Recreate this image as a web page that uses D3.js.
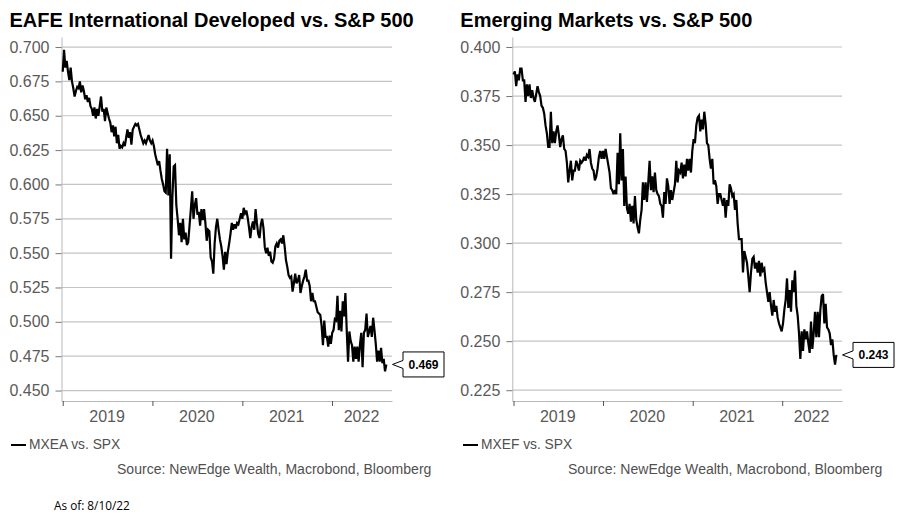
<!DOCTYPE html>
<html><head><meta charset="utf-8">
<script src="https://cdn.jsdelivr.net/npm/d3@7"></script>
<style>html,body{margin:0;padding:0;background:#fff}svg{display:block}text{font-family:"Liberation Sans",Arial,sans-serif}</style>
</head><body><svg id="c" width="899" height="522"></svg>
<script>
const years = ["2019","2020","2021","2022"];
const eafeTicks = [0.45,0.475,0.5,0.525,0.55,0.575,0.6,0.625,0.65,0.675,0.7];
const emTicks = [0.225,0.25,0.275,0.3,0.325,0.35,0.375,0.4];
const firstDate = "2019-01-01", lastDate = "2022-08-10";
const eafeValues = [
.682,.698,.685,.690,.682,.676,.685,.675,.670,.664,.668,.671,.670,.675,.667,.672,.668,.662,.665,.660,.663,.657,.655,.650,.656,.648,.655,.650,.657,.664,.653,.655,.646,.656,.652,.648,.645,.638,.643,.635,.642,.630,.636,.626,.628,.627,.630,.628,.634,.640,.634,.638,.629,.640,.642,.644,.643,.644,.640,.636,.633,.630,.632,.630,.633,.636,.632,.630,.632,.628,.622,.618,.614,.617,.610,.604,.600,.595,.594,.626,.592,.622,.546,.590,.613,.614,.585,.575,.563,.572,.558,.575,.560,.565,.556,.558,.570,.582,.595,.575,.585,.590,.578,.580,.570,.582,.574,.582,
.572,.559,.567,.566,.547,.544,.535,.557,.569,.575,.567,.560,.555,.548,.538,.551,.542,.551,.557,.564,.572,.567,.571,.568,.572,.571,.575,.579,.575,.583,.579,.581,.576,.569,.561,.569,.573,.567,.582,.572,.564,.561,
.571,.575,.568,.554,.550,.554,.548,.551,.544,.543,.546,.555,.557,.554,.559,.560,.557,.563,.555,.545,.540,.534,.532,.533,.522,.528,.535,.528,.530,.534,.521,.526,.530,.533,.538,.530,.530,.526,.515,.521,.515,.515,.511,.507,.506,.505,.497,.483,.501,.489,.489,.482,.490,.484,.492,.494,.502,.501,.519,.494,.508,.493,.515,.504,.521,.494,.471,.493,.486,.483,.471,.482,.473,.482,.471,.483,.492,.467,.492,.494,.506,.489,.493,.497,.489,.503,.494,.484,.471,.479,.471,.481,.470,.473,.464,.469];
const emValues = [
.386,.3876,.380,.386,.383,.389,.389,.383,.383,.372,.381,.375,.381,.374,.378,.374,.372,.376,.380,.377,.375,.370,.369,.366,.360,.356,.349,.349,.367,.351,.357,.351,.357,.360,.355,.349,.353,.355,.348,.347,.341,.331,.337,.342,.332,.337,.337,.342,.340,.337,.342,.341,.342,.344,.342,.345,.344,.348,.341,.338,.337,.332,.334,.338,.344,.347,.343,.347,.343,.348,.344,.340,.336,.328,.327,.325,.327,.325,.346,.330,.356,.332,.348,.319,.334,.318,.315,.320,.311,.319,.310,.324,.312,.308,.305,.312,.317,.331,.322,.331,.321,.331,.342,.327,.334,.326,.336,.327,.325,.324,.320,.319,.313,.326,.320,.333,.329,.320,.327,.322,.326,.330,.342,.331,.337,
.336,.341,.333,.340,.334,.343,.337,.343,.336,.347,.353,.351,.360,.364,.365,.357,.363,.358,.367,.361,.351,.350,.343,.338,.343,.330,.332,.329,.320,.325,.325,.322,.319,.323,.313,.322,.319,.330,.328,.324,.325,.317,.322,.310,.302,
.302,.302,.285,.296,.293,.290,.283,.275,.285,.292,.293,.287,.290,.285,.291,.283,.290,.286,.287,.280,.275,.270,.275,.268,.263,.271,.265,.268,.262,.259,.257,.255,.259,.266,.271,.282,.267,.276,.265,.281,.275,.286,.268,.263,.254,.241,.255,.245,.256,.251,.255,.249,.244,.260,.246,.254,.265,.252,.265,.252,.266,.273,.274,.259,.269,.257,.256,.254,.248,.251,.243,.238,.243];
const charts = [
 {title:"EAFE International Developed vs. S&P 500", values:eafeValues, ticks:eafeTicks, fmt:d3.format(".3f"), dom:[0.4424,0.7073], left:61.5, right:392, tx:9.5, legend:"MXEA vs. SPX", lx:11, sx:117, last:"0.469", lastV:0.469},
 {title:"Emerging Markets vs. S&P 500", values:emValues, ticks:emTicks, fmt:d3.format(".3f"), dom:[0.2195,0.4051], left:512.3, right:842, tx:460.3, legend:"MXEF vs. SPX", lx:463, sx:568, last:"0.243", lastV:0.243}
];
const svg = d3.select("#c");
const TOP=37, BOT=401;
const parse = d3.utcParse("%Y-%m-%d");
charts.forEach(c=>{
  const x = d3.scaleUtc().domain([parse("2018-12-27"),parse("2022-09-02")]).range([c.left,c.right]);
  const y = d3.scaleLinear().domain(c.dom).range([BOT,TOP]);
  const g = svg.append("g");
  g.append("text").attr("x",c.tx).attr("y",27).attr("font-size",20).attr("font-weight","bold").attr("fill","#000").text(c.title);
  g.append("g").selectAll("line").data(c.ticks).join("line")
    .attr("x1",c.left).attr("x2",c.right).attr("y1",d=>y(d)).attr("y2",d=>y(d)).attr("stroke","#c4c4c4").attr("stroke-width",1.2);
  const ya = g.append("g").attr("transform",`translate(${c.left},0)`)
    .call(d3.axisLeft(y).tickValues(c.ticks).tickFormat(c.fmt).tickSize(6).tickSizeOuter(0).tickPadding(6));
  ya.select(".domain").attr("stroke","#b8b8b8");
  ya.selectAll(".tick line").attr("stroke","#777");
  ya.selectAll("text").attr("font-size",16).attr("fill","#5a5a5a").style("font-family",'"Liberation Sans",Arial,sans-serif');
  const yearDates = years.map(v=>parse(v+"-01-01"));
  const xa = g.append("g").attr("transform",`translate(0,${BOT})`)
    .call(d3.axisBottom(x).tickValues(yearDates).tickFormat("").tickSize(5).tickSizeOuter(0));
  xa.select(".domain").attr("stroke","#b8b8b8");
  xa.selectAll(".tick line").attr("stroke","#555");
  const mids = yearDates.map((d,i)=>(x(d)+(i<3?x(yearDates[i+1]):c.right))/2);
  g.append("g").selectAll("text").data(years).join("text")
    .attr("x",(d,i)=>mids[i]-0.5).attr("y",422).attr("text-anchor","middle").attr("font-size",16).attr("fill","#5a5a5a").text(d=>d);
  const t0=+parse(firstDate), t1=+parse(lastDate), n=c.values.length;
  const pts = c.values.map((v,i)=>({d:new Date(t0+(t1-t0)*i/(n-1)),v}));
  g.append("path").datum(pts).attr("fill","none").attr("stroke","#000").attr("stroke-width",2.2).attr("stroke-linejoin","miter").attr("stroke-miterlimit",3)
    .attr("d",d3.line().x(p=>x(p.d)).y(p=>y(p.v)));
  const cy=y(c.lastV), r=c.right;
  g.append("path").attr("fill","#fff").attr("stroke","#000").attr("stroke-width",1)
    .attr("d",`M${r+0.5},${cy} L${r+11},${cy-4} V${cy-12.5} H${r+52} V${cy+12.5} H${r+11} V${cy+4} Z`);
  g.append("text").attr("x",r+31.5).attr("y",cy+4.3).attr("text-anchor","middle").attr("font-size",12).attr("font-weight","bold").attr("fill","#000").text(c.last);
  g.append("line").attr("x1",c.lx).attr("x2",c.lx+15).attr("y1",445).attr("y2",445).attr("stroke","#000").attr("stroke-width",2);
  g.append("text").attr("x",c.lx+18).attr("y",449).attr("font-size",13.8).attr("fill","#505050").text(c.legend);
  g.append("text").attr("x",c.sx).attr("y",474).attr("font-size",14.05).attr("fill","#505050").text("Source: NewEdge Wealth, Macrobond, Bloomberg");
});
svg.append("text").attr("x",54).attr("y",510).attr("font-size",11.8).style("font-family",'"Open Sans",sans-serif').attr("fill","#000").text("As of: 8/10/22");
</script></body></html>
